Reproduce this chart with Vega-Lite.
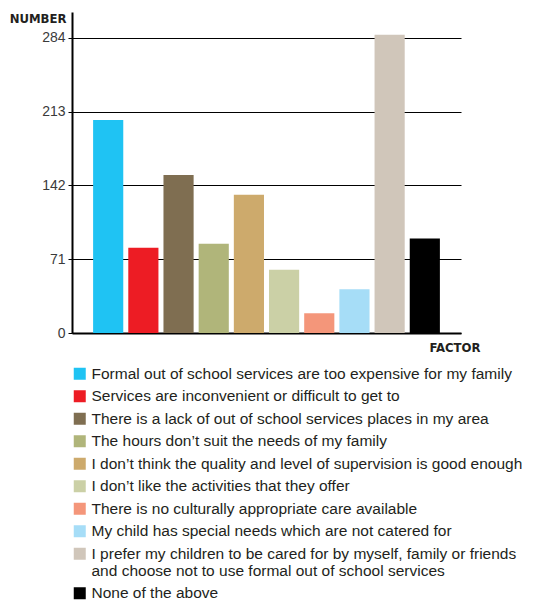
{
  "$schema": "https://vega.github.io/schema/vega-lite/v6.json",
  "autosize": {"type": "none"},
  "padding": {"left": 72, "top": 12, "right": 80, "bottom": 269},
  "width": 389,
  "height": 321,
  "background": "white",
  "config": {"view": {"stroke": null}},
  "data": {"values": [
    {"factor": "Formal out of school services are too expensive for my family", "number": 205},
    {"factor": "Services are inconvenient or difficult to get to", "number": 82},
    {"factor": "There is a lack of out of school services places in my area", "number": 152},
    {"factor": "The hours don’t suit the needs of my family", "number": 86},
    {"factor": "I don’t think the quality and level of supervision is good enough", "number": 133},
    {"factor": "I don’t like the activities that they offer", "number": 61},
    {"factor": "There is no culturally appropriate care available", "number": 19},
    {"factor": "My child has special needs which are not catered for", "number": 42},
    {"factor": "I prefer my children to be cared for by myself, family or friends and choose not to use formal out of school services", "number": 287},
    {"factor": "None of the above", "number": 91}
  ]},
  "mark": {"type": "bar"},
  "encoding": {
    "x": {
      "field": "factor", "type": "nominal", "sort": null,
      "scale": {"paddingInner": 0.1429, "paddingOuter": 0.6},
      "axis": {
        "labels": false, "ticks": false, "grid": false,
        "title": "FACTOR",
        "titleFont": "DejaVu Sans Condensed, Liberation Sans Narrow, Roboto, sans-serif", "titleFontWeight": "bold", "titleFontSize": 13, "titleColor": "#231f20",
        "titleX": 408, "titleY": 18, "titleAlign": "right", "titleBaseline": "alphabetic",
        "domainColor": "black", "domainWidth": 2
      }
    },
    "y": {
      "field": "number", "type": "quantitative",
      "scale": {"domain": [0, 309], "nice": false},
      "axis": {
        "values": [0, 71, 142, 213, 284],
        "title": "NUMBER", "titleAngle": 0,
        "titleFont": "DejaVu Sans Condensed, Liberation Sans Narrow, Roboto, sans-serif", "titleFontWeight": "bold", "titleFontSize": 13, "titleColor": "#231f20",
        "titleX": -6, "titleY": 10, "titleAlign": "right", "titleBaseline": "alphabetic",
        "grid": true, "gridColor": "black", "gridOpacity": 1, "gridWidth": 1,
        "tickColor": "black", "tickSize": 4, "tickWidth": 1,
        "labelPadding": 3, "labelFont": "Liberation Sans", "labelFontSize": 14, "labelColor": "#3a3a3a",
        "domainColor": "black", "domainWidth": 2
      }
    },
    "color": {
      "field": "factor", "type": "nominal", "sort": null,
      "scale": {
        "domain": [
          "Formal out of school services are too expensive for my family",
          "Services are inconvenient or difficult to get to",
          "There is a lack of out of school services places in my area",
          "The hours don’t suit the needs of my family",
          "I don’t think the quality and level of supervision is good enough",
          "I don’t like the activities that they offer",
          "There is no culturally appropriate care available",
          "My child has special needs which are not catered for",
          "I prefer my children to be cared for by myself, family or friends and choose not to use formal out of school services",
          "None of the above"
        ],
        "range": ["#1fc3f3", "#ed1c24", "#7f6e51", "#b0b57a", "#cdaa6c", "#cbd0a6", "#f4967a", "#a6ddf7", "#d0c6ba", "#000000"]
      },
      "legend": {
        "orient": "none", "legendX": 0, "legendY": 354,
        "direction": "vertical", "title": null, "padding": 0,
        "symbolType": "square", "symbolSize": 144, "symbolStrokeWidth": 0, "symbolOpacity": 1,
        "labelFont": "Liberation Sans", "labelFontSize": 15.5, "labelColor": "#231f20",
        "labelLimit": 500, "labelOffset": 4, "rowPadding": 5.5, "labelLineHeight": 18,
        "labelExpr": "indexof(datum.label, ' and choose') > 0 ? [substring(datum.label, 0, indexof(datum.label, ' and choose')), substring(datum.label, indexof(datum.label, ' and choose') + 1)] : datum.label"
      }
    }
  }
}
